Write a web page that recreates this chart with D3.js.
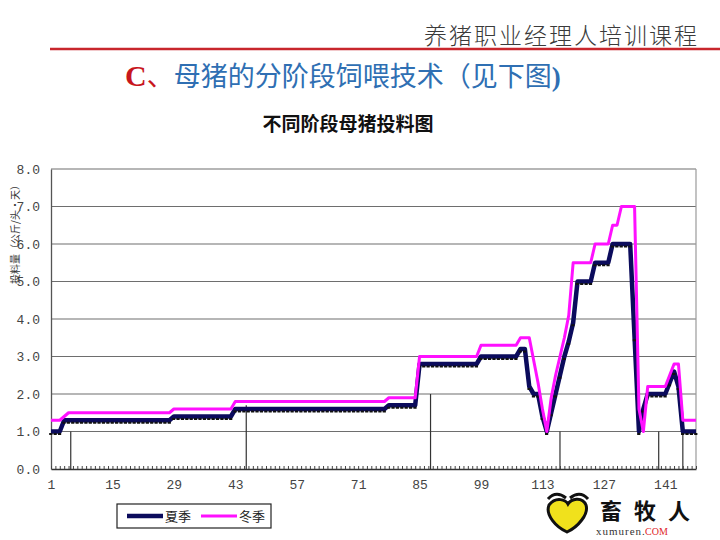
<!DOCTYPE html>
<html><head><meta charset="utf-8">
<script src="https://cdn.jsdelivr.net/npm/d3@7/dist/d3.min.js"></script>
<style>
html,body{margin:0;padding:0;background:#fff;}
svg{display:block;}
</style></head>
<body>
<svg id="c" width="720" height="540"></svg>
<script>
// ---- data ----
const days = d3.range(1, 149); // categories 1..148
const xTickLabels = [1, 15, 29, 43, 57, 71, 85, 99, 113, 127, 141];
const yTicks = [0, 1, 2, 3, 4, 5, 6, 7, 8];
const seriesNames = ["夏季", "冬季"];
const summer = [
  1.0,1.0,1.0,
  1.3,1.3,1.3,1.3,1.3,1.3,1.3,1.3,1.3,1.3,
  1.3,1.3,1.3,1.3,1.3,1.3,1.3,1.3,1.3,1.3,
  1.3,1.3,1.3,1.3,1.3,
  1.4,1.4,1.4,1.4,1.4,1.4,1.4,1.4,1.4,1.4,
  1.4,1.4,1.4,1.4,
  1.6,1.6,1.6,1.6,1.6,1.6,1.6,1.6,1.6,1.6,
  1.6,1.6,1.6,1.6,1.6,1.6,1.6,1.6,1.6,1.6,
  1.6,1.6,1.6,1.6,1.6,1.6,1.6,1.6,1.6,1.6,
  1.6,1.6,1.6,1.6,1.6,
  1.7,1.7,1.7,1.7,1.7,1.7,1.7,
  2.8,2.8,2.8,2.8,2.8,2.8,2.8,2.8,2.8,2.8,
  2.8,2.8,2.8,2.8,
  3.0,3.0,3.0,3.0,3.0,3.0,3.0,3.0,3.0,
  3.2,3.2,2.2,2.0,2.0,1.4,1.0,
  1.5,2.0,2.5,3.0,3.4,3.9,
  5.0,5.0,5.0,5.0,
  5.5,5.5,5.5,5.5,
  6.0,6.0,6.0,6.0,6.0,
  3.5,1.0,1.6,
  2.0,2.0,2.0,2.0,2.0,
  2.3,2.6,2.2,
  1.0,1.0,1.0,1.0
];
const winter = [
  1.3,1.3,1.3,
  1.4,
  1.5,1.5,1.5,1.5,1.5,1.5,1.5,1.5,1.5,1.5,
  1.5,1.5,1.5,1.5,1.5,1.5,1.5,1.5,1.5,1.5,
  1.5,1.5,1.5,1.5,
  1.6,1.6,1.6,1.6,1.6,1.6,1.6,1.6,1.6,1.6,
  1.6,1.6,1.6,1.6,
  1.8,1.8,1.8,1.8,1.8,1.8,1.8,1.8,1.8,1.8,
  1.8,1.8,1.8,1.8,1.8,1.8,1.8,1.8,1.8,1.8,
  1.8,1.8,1.8,1.8,1.8,1.8,1.8,1.8,1.8,1.8,
  1.8,1.8,1.8,1.8,1.8,
  1.9,1.9,1.9,1.9,1.9,1.9,1.9,
  3.0,3.0,3.0,3.0,3.0,3.0,3.0,3.0,3.0,3.0,
  3.0,3.0,3.0,3.0,
  3.3,3.3,3.3,3.3,3.3,3.3,3.3,3.3,3.3,
  3.5,3.5,3.5,
  2.9,2.3,1.6,1.0,
  1.9,2.5,3.0,3.5,4.1,
  5.5,5.5,5.5,5.5,5.5,
  6.0,6.0,6.0,6.0,
  6.5,6.5,
  7.0,7.0,7.0,7.0,
  1.6,1.0,
  2.2,2.2,2.2,2.2,2.2,
  2.5,2.8,2.8,
  1.3,1.3,1.3,1.3
];
// stage divider lines: category position and height
const stageDay = [5.5, 45.5, 87.5, 117, 139.5, 145];
const stageVal = [1.0, 1.7, 2.0, 1.0, 1.0, 1.0];

// ---- drawing ----
const svg = d3.select("#c");
const L = 51, R = 696, T = 169, B = 469;
const x = d3.scaleLinear().domain([1, 148]).range([L, R]);
const y = d3.scaleLinear().domain([0, 8]).range([B, T]);

// header
svg.append("text").attr("x", 699).attr("y", 44).attr("text-anchor", "end")
  .attr("font-family", "'Noto Sans CJK SC'").attr("font-size", 23).attr("fill", "#3a3a3a")
  .attr("letter-spacing", 2).attr("font-weight", 300).text("养猪职业经理人培训课程");
svg.append("line").attr("x1", 50).attr("x2", 720).attr("y1", 49).attr("y2", 49)
  .attr("stroke", "#c8262c").attr("stroke-width", 2.5);
const t = svg.append("text").attr("x", 125).attr("y", 86)
  .attr("font-family", "'Noto Sans CJK SC'").attr("font-size", 27);
t.append("tspan").attr("fill", "#c8161d").attr("font-family", "'Liberation Serif'").attr("font-weight", "bold").attr("font-size", 30).text("C");
t.append("tspan").attr("fill", "#c8161d").text("、");
t.append("tspan").attr("fill", "#2f6fb3").text("母猪的分阶段饲喂技术（见下图");
t.append("tspan").attr("fill", "#2f6fb3").attr("font-family", "'Liberation Serif'").attr("font-weight", "bold").text(")");

svg.append("text").attr("x", 348).attr("y", 131).attr("text-anchor", "middle")
  .attr("font-family", "'Noto Sans CJK SC'").attr("font-weight", "bold").attr("font-size", 19)
  .attr("fill", "#111").text("不同阶段母猪投料图");

// gridlines
svg.append("g").selectAll("line").data(yTicks.filter(d => d > 0)).join("line")
  .attr("x1", L).attr("x2", R).attr("y1", d => y(d)).attr("y2", d => y(d))
  .attr("stroke", "#6e6e6e").attr("stroke-width", 1.2);
// right border
svg.append("line").attr("x1", R).attr("x2", R).attr("y1", T).attr("y2", B)
  .attr("stroke", "#9a9a9a").attr("stroke-width", 1.2);

// stage lines
svg.append("g").selectAll("line").data(stageDay).join("line")
  .attr("x1", d => x(d)).attr("x2", d => x(d))
  .attr("y1", (d, i) => y(stageVal[i])).attr("y2", y(0))
  .attr("stroke", "#333").attr("stroke-width", 1.2);

// axes
const fmtLbl = d3.format(".1f");
const yAxis = svg.append("g").attr("transform", `translate(${L},0)`)
  .call(d3.axisLeft(y).tickValues(yTicks).tickSize(0).tickPadding(11).tickFormat(fmtLbl));
yAxis.select(".domain").attr("stroke", "#555").attr("stroke-width", 1.3);
yAxis.selectAll("text").attr("font-family", "'Liberation Mono'").attr("font-size", 13).attr("fill", "#444");

const xAxis = svg.append("g").attr("transform", `translate(0,${B})`)
  .call(d3.axisBottom(x).tickValues(days).tickSizeInner(-3).tickSizeOuter(0).tickPadding(11)
    .tickFormat(d => xTickLabels.includes(d) ? String(d) : ""));
xAxis.select(".domain").attr("stroke", "#333").attr("stroke-width", 1.5);
xAxis.selectAll(".tick line").attr("stroke", "#444");
xAxis.selectAll("text").attr("font-family", "'Liberation Mono'").attr("font-size", 13).attr("fill", "#444");

// y-axis title (vertical)
svg.append("text").attr("transform", "translate(19,232) rotate(-90)").attr("text-anchor", "middle")
  .attr("font-family", "'Noto Sans CJK SC'").attr("font-size", 10).attr("fill", "#333")
  .text("投料量（公斤/头·天）");

// series
const line = d3.line().x((d, i) => x(days[i])).y(d => y(d));
svg.append("path").datum(summer).attr("d", line).attr("fill", "none")
  .attr("stroke", "#0b0b5c").attr("stroke-width", 4.5).attr("stroke-linejoin", "round");
svg.append("g").selectAll("rect").data(summer).join("rect")
  .attr("x", (d, i) => x(days[i]) - 1.8).attr("y", d => y(d) + 1.5)
  .attr("width", 3.2).attr("height", 2).attr("fill", "#111");
svg.append("path").datum(winter).attr("d", line).attr("fill", "none")
  .attr("stroke", "#ff10ff").attr("stroke-width", 3).attr("stroke-linejoin", "round");

// legend
const lg = svg.append("g");
lg.append("rect").attr("x", 117).attr("y", 504).attr("width", 154).attr("height", 24)
  .attr("fill", "#fff").attr("stroke", "#222").attr("stroke-width", 1.2);
const legColors = ["#0b0b5c", "#ff10ff"];
const legX = [127, 201];
seriesNames.forEach((n, i) => {
  lg.append("line").attr("x1", legX[i]).attr("x2", legX[i] + 36).attr("y1", 516).attr("y2", 516)
    .attr("stroke", legColors[i]).attr("stroke-width", i === 0 ? 4.5 : 3);
  lg.append("text").attr("x", legX[i] + 38).attr("y", 521).attr("font-family", "'Noto Sans CJK SC'")
    .attr("font-size", 13).attr("fill", "#222").text(n);
});

// watermark logo
const wm = svg.append("g");
wm.append("path").attr("d", "M549,505 C556,496 566,500 568,504 C571,499 582,496 586,505 C589,514 578,527 567,532 C556,527 545,515 549,505 Z")
  .attr("fill", "#f0e11c").attr("stroke", "#111").attr("stroke-width", 3);
wm.append("path").attr("d", "M548,499 Q556,490 566,498 M570,498 Q580,490 588,499")
  .attr("fill", "none").attr("stroke", "#111").attr("stroke-width", 3);
wm.append("text").attr("x", 600).attr("y", 519).attr("font-family", "'Noto Sans CJK SC'")
  .attr("font-weight", "bold").attr("font-size", 22).attr("letter-spacing", 12).attr("fill", "#111").text("畜牧人");
wm.append("text").attr("x", 596).attr("y", 535).attr("font-family", "'Liberation Serif'")
  .attr("font-size", 11).attr("letter-spacing", 1).attr("fill", "#333").text("xumuren.");
wm.append("text").attr("x", 645).attr("y", 535).attr("font-family", "'Liberation Serif'")
  .attr("font-size", 10).attr("fill", "#e0262a").text("COM");
</script>
</body></html>
